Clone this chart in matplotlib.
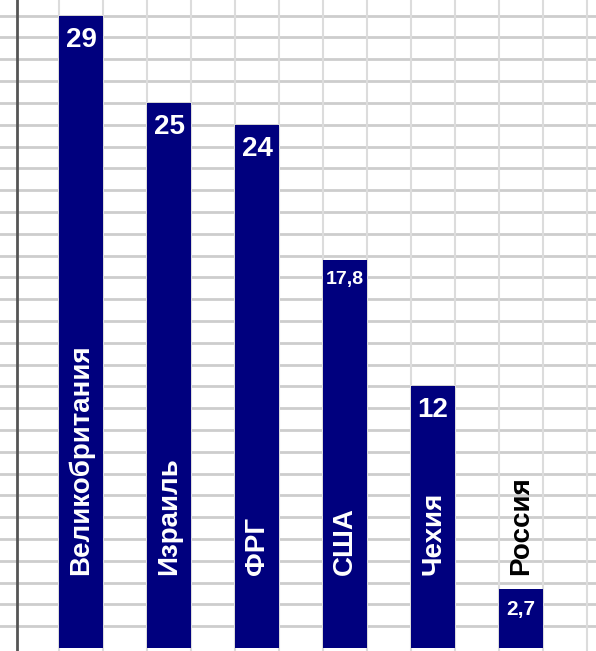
import matplotlib.pyplot as plt
import numpy as np

countries = ['Великобритания', 'Израиль', 'ФРГ', 'США', 'Чехия', 'Россия']
values = [29, 25, 24, 17.8, 12, 2.7]
value_labels = ['29', '25', '24', '17,8', '12', '2,7']
value_sizes = [20, 20, 20, 14, 20, 15]

plt.rcParams['font.family'] = ['Liberation Sans', 'DejaVu Sans']

fig = plt.figure(figsize=(5.96, 6.51), dpi=100)
ax = fig.add_axes([0, 0, 1, 1])

x = np.arange(len(countries))

# spreadsheet-like grid in the background
for yv in range(1, 30):
    ax.axhline(yv, color='#cdcdcd', lw=2, zorder=0)
for xv in np.arange(-0.25, 6.0, 0.5):
    ax.axvline(xv, color='#dcdcdc', lw=1.5, zorder=0)
ax.axvline(-0.73, color='#555555', lw=2, zorder=1)

ax.bar(x, values, width=0.5, color='#00007e', zorder=2)

for i in range(len(countries)):
    ax.text(x[i], values[i] - 0.5, value_labels[i], ha='center', va='top',
            color='white', fontsize=value_sizes[i], fontweight='bold', zorder=3)
    if values[i] > 10:
        col = 'white'
    else:
        col = 'black'
    ax.text(x[i], 3.35, countries[i], ha='center', va='bottom', rotation=90,
            color=col, fontsize=20, fontweight='bold', zorder=3)

ax.set_xlim(-0.92, 5.85)
ax.set_ylim(-0.14, 29.72)
ax.axis('off')

fig.savefig('out.png', dpi=100)
